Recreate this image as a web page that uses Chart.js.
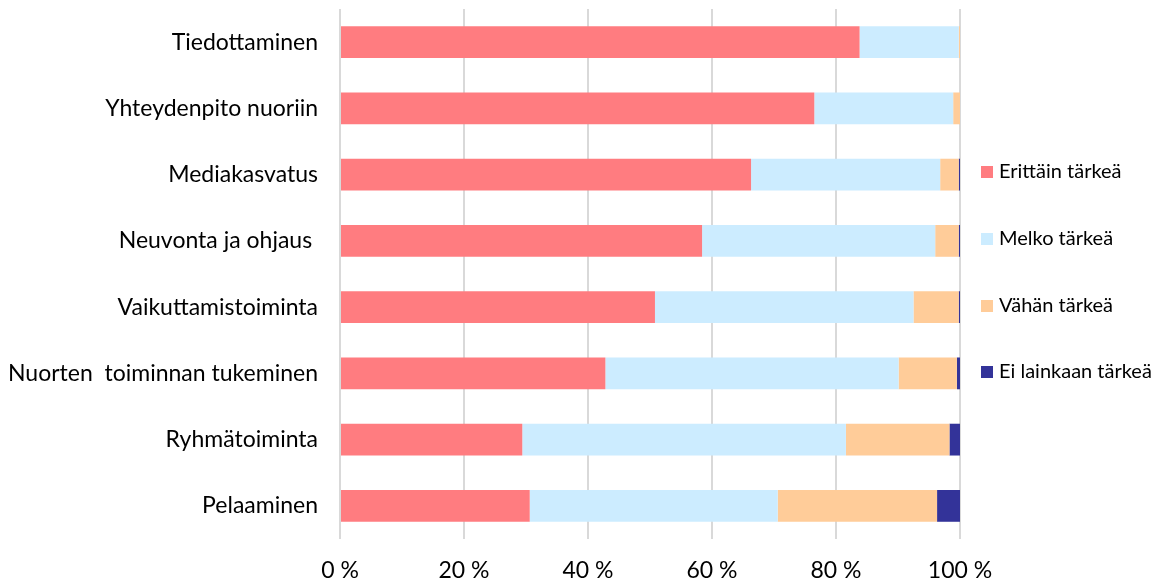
<!DOCTYPE html>
<html><head><meta charset="utf-8">
<script src="https://cdn.jsdelivr.net/npm/chart.js@4.4.1/dist/chart.umd.min.js"></script>
<style>html,body{margin:0;padding:0;background:#fff}#wrap{width:1158px;height:584px}</style>
</head><body><div id="wrap"><canvas id="c" width="1158" height="584"></canvas></div>
<script>
const categories = ["Tiedottaminen","Yhteydenpito nuoriin","Mediakasvatus","Neuvonta ja ohjaus ","Vaikuttamistoiminta","Nuorten  toiminnan tukeminen","Ryhmätoiminta","Pelaaminen"];
const erittain = [83.8, 76.5, 66.3, 58.4, 50.8, 42.8, 29.4, 30.6];
const melko    = [16.0, 22.4, 30.5, 37.6, 41.7, 47.3, 52.2, 40.0];
const vahan    = [0.2, 1.1, 3.0, 3.8, 7.3, 9.4, 16.7, 25.7];
const eiLainkaan = [0, 0, 0.2, 0.2, 0.2, 0.5, 1.7, 3.7];
const seriesNames = ["Erittäin tärkeä","Melko tärkeä","Vähän tärkeä","Ei lainkaan tärkeä"];
const xTicks = [0,20,40,60,80,100];
const colors = ["#FF7C80","#CCECFF","#FFCC99","#333399"];
const FONT = "Lato, 'Open Sans', sans-serif";

// legend drawn at the right side, items vertically spaced
const sideLegend = {
  id:'sideLegend',
  afterDraw(chart){
    const ctx = chart.ctx;
    const ds = chart.data.datasets;
    const top = chart.chartArea.top, h = chart.chartArea.bottom - top;
    const centers = [172, 239, 306, 372].map(y => (y - 9) / 530); // fractions of plot height
    ctx.save();
    ctx.font = "20px " + FONT;
    ctx.textBaseline = 'middle';
    ctx.fillStyle = '#000';
    ds.forEach((d,i)=>{
      const y = top + centers[i]*h;
      const x = chart.chartArea.right + 21;
      ctx.fillStyle = d.backgroundColor;
      ctx.fillRect(x, Math.round(y-6), 12, 12);
      ctx.fillStyle = '#000';
      ctx.fillText(d.label, x + 18, y);
    });
    ctx.restore();
  }
};

new Chart(document.getElementById('c'), {
  type:'bar',
  data:{labels:categories, datasets:[erittain,melko,vahan,eiLainkaan].map((d,i)=>({
    label:seriesNames[i], data:d, backgroundColor:colors[i], borderWidth:0,
    categoryPercentage:0.96, barPercentage:0.5
  }))},
  options:{
    indexAxis:'y', responsive:false, animation:false,
    layout:{padding:{left:0,right:198,top:9,bottom:0}},
    plugins:{ tooltip:{enabled:false}, legend:{display:false} },
    scales:{
      x:{stacked:true,min:0,max:100,
        afterBuildTicks:(ax)=>{ax.ticks=xTicks.map(v=>({value:v}));},
        afterFit:(s)=>{s.height=45; s.paddingLeft=0; s.paddingRight=0;},
        grid:{color:'#d9d9d9',lineWidth:2,drawTicks:false},
        border:{display:false},
        ticks:{padding:18,color:'#000',font:{family:FONT,size:23},callback:v=>v+' %'}},
      y:{stacked:true,
        afterFit:(s)=>{s.width=340; s.paddingTop=0; s.paddingBottom=0;},
        grid:{display:false,drawTicks:false},
        border:{display:false},
        ticks:{padding:22,color:'#000',font:{family:FONT,size:23}}}
    }
  },
  plugins:[sideLegend]
});
</script></body></html>
